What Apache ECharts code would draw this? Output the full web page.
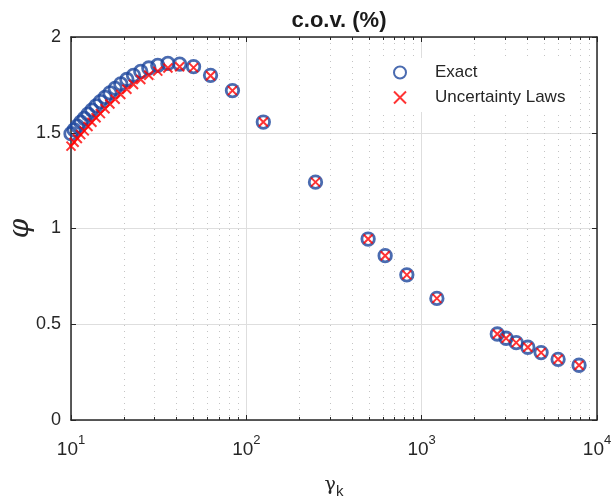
<!DOCTYPE html>
<html>
<head>
<meta charset="utf-8">
<script src="https://cdn.jsdelivr.net/npm/echarts@6/dist/echarts.min.js"></script>
<style>
  html, body { margin: 0; padding: 0; background: #fff; }
  #chart { width: 611px; height: 502px; }
</style>
</head>
<body>
<div id="chart"></div>
<script>
// gamma_k (x) values
var gammaK = [10, 10.42, 10.87, 11.36, 11.9, 12.5, 13.16, 13.89, 14.71, 15.63,
  16.67, 17.86, 19.23, 20.83, 22.73, 25, 27.78, 31.25, 35.71, 41.67,
  50, 62.5, 83.33, 125, 248, 495, 619, 823, 1221,
  2700, 3030, 3460, 4030, 4800, 6000, 7900];
// phi, "Exact"
var exact = [1.495, 1.515, 1.535, 1.555, 1.575, 1.597, 1.618, 1.64, 1.663, 1.685,
  1.708, 1.732, 1.755, 1.778, 1.8, 1.82, 1.838, 1.852, 1.862, 1.858,
  1.845, 1.8, 1.72, 1.556, 1.242, 0.945, 0.858, 0.758, 0.635,
  0.449, 0.427, 0.404, 0.38, 0.352, 0.317, 0.286];
// phi, "Uncertainty Laws"
var uncertainty = [1.43, 1.45, 1.47, 1.49, 1.51, 1.533, 1.555, 1.578, 1.6, 1.625,
  1.65, 1.675, 1.7, 1.727, 1.752, 1.778, 1.8, 1.822, 1.838, 1.845,
  1.84, 1.798, 1.72, 1.556, 1.242, 0.945, 0.858, 0.758, 0.635,
  0.449, 0.427, 0.404, 0.38, 0.352, 0.317, 0.286];
var xTicks = [10, 100, 1000, 10000];
var yTicks = [0, 0.5, 1, 1.5, 2];

var FONT = "'Liberation Sans', Arial, Helvetica, sans-serif";
var AXIS = "#262626";

var myChart = echarts.init(document.getElementById("chart"));

var logAxisBase = {
  type: "log",
  logBase: 10,
  min: xTicks[0],
  max: xTicks[xTicks.length - 1],
  axisLine: { show: true, onZero: false, lineStyle: { color: AXIS, width: 1.5 } },
  axisTick: { show: true, inside: true, length: 5, lineStyle: { color: AXIS } },
  minorTick: { show: true, splitNumber: 9, length: 3, lineStyle: { color: AXIS } },
};

var option = {
  backgroundColor: "#fff",
  animation: false,
  title: {
    text: "c.o.v. (%)",
    left: 334,
    textAlign: "center",
    top: 5,
    textStyle: { fontFamily: FONT, fontSize: 22, fontWeight: "bold", color: "#1a1a1a" },
  },
  grid: { left: 71, right: 14, top: 37, bottom: 82, outerBoundsMode: "none", containLabel: false },
  legend: {
    orient: "vertical",
    left: 370,
    top: 58,
    itemWidth: 12,
    itemHeight: 12,
    itemGap: 8,
    backgroundColor: "#fff",
    padding: [6, 10, 6, 23],
    textStyle: { fontFamily: FONT, fontSize: 17, color: AXIS, padding: [0, 0, 0, 24] },
    data: ["Exact", "Uncertainty Laws"],
  },
  xAxis: [
    Object.assign({}, logAxisBase, {
      position: "bottom",
      name: "{g|γ}{s|k}",
      nameLocation: "middle",
      nameGap: 52,
      nameTextStyle: {
        rich: {
          g: { fontFamily: "'DejaVu Serif', serif", fontSize: 19, color: AXIS },
          s: { fontFamily: FONT, fontSize: 15, color: AXIS, padding: [12, 0, 0, 0] },
        },
      },
      axisLabel: {
        margin: 12,
        formatter: function (v) {
          return "{b|10}{p|" + Math.round(Math.log10(v)) + "}";
        },
        rich: {
          b: { fontFamily: FONT, fontSize: 19, color: AXIS, padding: [8, 0, 0, 0] },
          p: { fontFamily: FONT, fontSize: 13, color: AXIS, padding: [0, 0, 10, 0] },
        },
      },
      splitLine: { show: true, lineStyle: { color: "#dedede", width: 1 } },
      minorSplitLine: { show: true, lineStyle: { color: "#c4c4c4", type: [1, 5], width: 1 } },
    }),
    Object.assign({}, logAxisBase, {
      position: "top",
      axisLabel: { show: false },
      splitLine: { show: false },
    }),
  ],
  yAxis: [
    {
      type: "value",
      position: "left",
      min: yTicks[0],
      max: yTicks[yTicks.length - 1],
      interval: 0.5,
      name: "φ",
      nameLocation: "middle",
      nameGap: 36,
      nameMoveOverlap: false,
      nameRotate: 90,
      nameTextStyle: { fontFamily: "'DejaVu Serif', serif", fontStyle: "italic", fontSize: 28, color: AXIS },
      axisLine: { show: true, lineStyle: { color: AXIS, width: 1.5 } },
      axisTick: { show: true, inside: true, length: 5, lineStyle: { color: AXIS } },
      axisLabel: { fontFamily: FONT, fontSize: 18, color: AXIS, margin: 10 },
      splitLine: { show: true, lineStyle: { color: "#dedede", width: 1 } },
    },
    {
      type: "value",
      position: "right",
      min: yTicks[0],
      max: yTicks[yTicks.length - 1],
      interval: 0.5,
      axisLine: { show: true, lineStyle: { color: AXIS, width: 1.5 } },
      axisTick: { show: true, inside: true, length: 5, lineStyle: { color: AXIS } },
      axisLabel: { show: false },
      splitLine: { show: false },
    },
  ],
  series: [
    {
      name: "Exact",
      type: "scatter",
      data: gammaK.map(function (g, i) { return [g, exact[i]]; }),
      symbol: "circle",
      symbolSize: 12.5,
      itemStyle: { color: "rgba(0,0,0,0)", borderColor: "#1d469c", borderWidth: 2.8 },
      z: 3,
    },
    {
      name: "Uncertainty Laws",
      type: "scatter",
      data: gammaK.map(function (g, i) { return [g, uncertainty[i]]; }),
      symbol: "path://M0,0L10,10M0,10L10,0",
      symbolSize: 9,
      itemStyle: { color: "rgba(0,0,0,0)", borderColor: "#ff0000", borderWidth: 2 },
      z: 4,
    },
  ],
};

myChart.setOption(option);
window.addEventListener("resize", function () {
  myChart.resize();
});
</script>
</body>
</html>
